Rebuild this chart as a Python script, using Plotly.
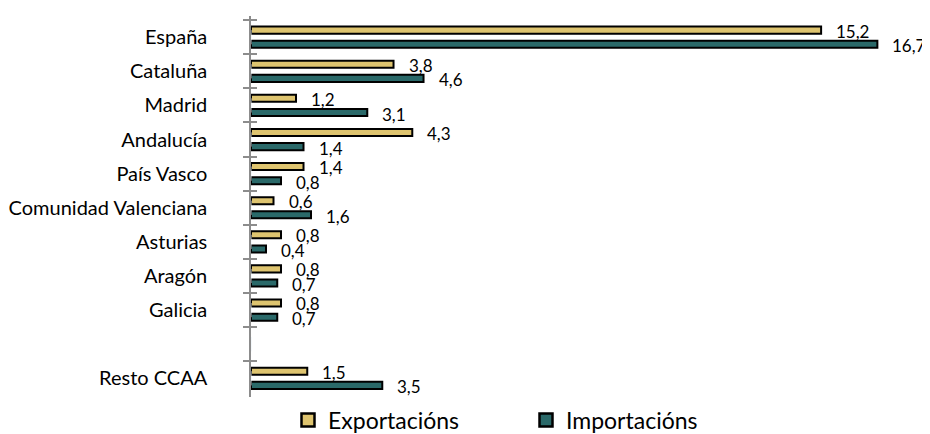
import plotly.graph_objects as go

categories = ["España", "Cataluña", "Madrid", "Andalucía", "País Vasco",
              "Comunidad Valenciana", "Asturias", "Aragón", "Galicia", " ", "Resto CCAA"]
exportacions = [15.2, 3.8, 1.2, 4.3, 1.4, 0.6, 0.8, 0.8, 0.8, None, 1.5]
importacions = [16.7, 4.6, 3.1, 1.4, 0.8, 1.6, 0.4, 0.7, 0.7, None, 3.5]
series_names = ["Exportacións", "Importacións"]
series_colors = ["#DEC46F", "#2A6969"]

def fmt(v):
    return f"{v:.1f}".replace(".", ",")

FONT = "Lato"
# the page body adds an 8px offset, so the figure is sized to fit the window
W, H = 922, 426
M = dict(l=243, r=20, t=8, b=37)
BARGAP, GROUPGAP = 0.17, 0.5
XMAX = 17.57

fig = go.Figure()
for name, vals, col, leg in zip(series_names, [exportacions, importacions],
                                series_colors, ["legend", "legend2"]):
    fig.add_trace(go.Bar(
        y=categories, x=vals, orientation="h", name=name, legendgroup=name,
        showlegend=False,
        marker=dict(color=col, line=dict(color="#000000", width=2)),
        hoverinfo="x+y",
    ))
    # legend-only entry with a larger outlined square
    fig.add_trace(go.Scatter(
        x=[None], y=[None], mode="markers", name=name, legendgroup=name, legend=leg,
        marker=dict(symbol="square", size=13, color=col,
                    line=dict(color="#000000", width=2.5)),
        hoverinfo="skip",
    ))
# invisible trace on a second y axis: inside half of the crossing ticks
fig.add_trace(go.Bar(y=categories, x=[0] * len(categories), orientation="h",
                     yaxis="y2", showlegend=False, hoverinfo="skip",
                     marker=dict(color="rgba(0,0,0,0)")))

# value labels placed with the data axes (shifted to each bar of the group)
cat_px = (H - M["t"] - M["b"]) / len(categories)
slot = cat_px * (1 - BARGAP) / 2
for vals, dy in [(exportacions, slot / 2 - 1), (importacions, -slot / 2 - 1.5)]:
    for c, v in zip(categories, vals):
        if v is None:
            continue
        fig.add_annotation(x=v, y=c, xref="x", yref="y", text=fmt(v),
                           showarrow=False, xanchor="left", yanchor="middle",
                           xshift=13, yshift=dy,
                           font=dict(family=FONT, size=17, color="#000000"))

legend_common = dict(orientation="h", xref="container", yref="container",
                     xanchor="left", y=1 - 412 / H, yanchor="middle",
                     font=dict(family=FONT, size=23, color="#000000"),
                     itemwidth=30, itemsizing="trace", bgcolor="rgba(0,0,0,0)")

fig.update_layout(
    width=W, height=H,
    margin=dict(**M, autoexpand=False),
    paper_bgcolor="white", plot_bgcolor="white",
    barmode="group", bargap=BARGAP, bargroupgap=GROUPGAP,
    font=dict(family=FONT, size=20, color="#000000"),
    xaxis=dict(range=[0, XMAX], visible=False, fixedrange=True),
    yaxis=dict(type="category", categoryorder="array", categoryarray=categories,
               autorange="reversed", showline=True, linecolor="#8C8C8C", linewidth=1.5,
               ticks="outside", tickson="boundaries", ticklen=6, tickwidth=1.5,
               tickcolor="#8C8C8C", ticklabelstandoff=38, automargin=False,
               tickfont=dict(family=FONT, size=20, color="#000000"),
               showgrid=False, zeroline=False),
    yaxis2=dict(type="category", categoryorder="array", categoryarray=categories,
                overlaying="y", side="left", autorange="reversed", matches="y",
                ticks="inside", tickson="boundaries", ticklen=6, tickwidth=1.5,
                tickcolor="#8C8C8C", showticklabels=False, showline=False,
                showgrid=False, zeroline=False, automargin=False),
    legend=dict(x=280 / W, **legend_common),
    legend2=dict(x=518 / W, **legend_common),
    showlegend=True,
)
fig.write_html("out.html")
